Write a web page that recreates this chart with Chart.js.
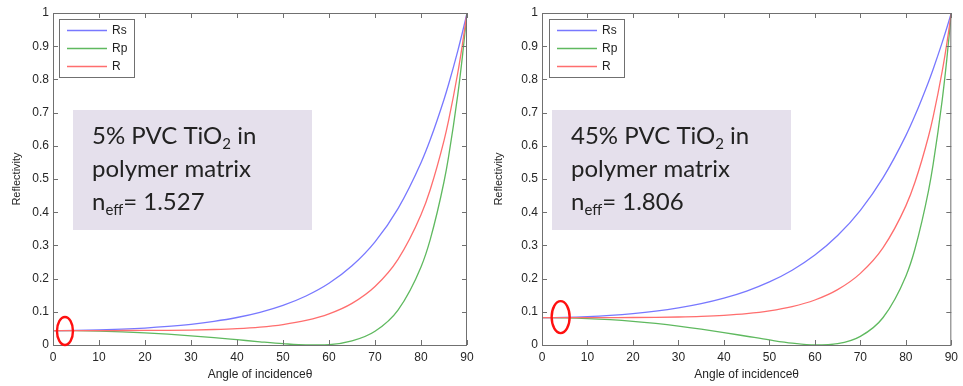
<!DOCTYPE html>
<html>
<head>
<meta charset="utf-8">
<script src="https://cdn.jsdelivr.net/npm/chart.js@4/dist/chart.umd.min.js"></script>
<style>
html,body{margin:0;padding:0;background:#fff;overflow:hidden;}
#wrap{position:relative;width:963px;height:386px;}
canvas{position:absolute;top:0;}
#c1{left:0;}
#c2{left:482px;}
</style>
</head>
<body>
<div id="wrap">
  <canvas id="c1" width="480" height="386" style="width:480px;height:386px"></canvas>
  <canvas id="c2" width="481" height="386" style="width:481px;height:386px"></canvas>
</div>
<script>
// angle of incidence (deg)
const angles=[0,5,10,15,20,25,30,35,40,45,50,55,60,65,70,75,80,82,85,86,88,89,90];
const xTicks=[0,10,20,30,40,50,60,70,80,90];
const yTicks=[0,0.1,0.2,0.3,0.4,0.5,0.6,0.7,0.8,0.9,1];

// 5% PVC, n_eff = 1.527
const rs1=[.0435,.0439,.0453,.0476,.0510,.0559,.0624,.0712,.0828,.0984,.1193,.1475,.1858,.2384,.3107,.4108,.5490,.6180,.7395,.7853,.8861,.9413,1];
const rp1=[.0435,.0431,.0418,.0396,.0365,.0325,.0277,.0222,.0160,.0097,.0040,.0003,.0014,.0121,.0412,.1051,.2351,.3175,.4917,.5675,.7540,.8684,1];
const r1 =[.0435,.0435,.0435,.0436,.0438,.0442,.0451,.0467,.0494,.0540,.0616,.0739,.0936,.1252,.1760,.2579,.3920,.4678,.6156,.6764,.8200,.9049,1];

// 45% PVC, n_eff = 1.806
const rs2=[.0825,.0832,.0853,.0890,.0944,.1018,.1117,.1245,.1411,.1624,.1899,.2252,.2708,.3296,.4057,.5041,.6307,.6910,.7932,.8307,.9114,.9547,1];
const rp2=[.0825,.0818,.0797,.0762,.0713,.0649,.0571,.0479,.0375,.0264,.0153,.0056,.0002,.0039,.0258,.0828,.2074,.2892,.4658,.5438,.7384,.8595,1];
const r2 =[.0825,.0825,.0825,.0826,.0828,.0834,.0844,.0862,.0893,.0944,.1026,.1154,.1355,.1668,.2158,.2934,.4191,.4901,.6295,.6872,.8249,.9071,1];

const seriesNames=['Rs','Rp','R'];
const seriesColors=['rgb(120,120,255)','rgb(95,185,95)','rgb(255,110,110)'];

const pts=arr=>arr.map((v,i)=>({x:angles[i],y:v}));

// axes box, inward ticks, legend, note box, red ring
const matlabBox={
  id:'matlabBox',
  afterDatasetsDraw(chart,args,o){
    const {ctx,chartArea:{left,right,top,bottom},scales:{x,y}}=chart;
    ctx.save();
    ctx.strokeStyle='#707070';ctx.lineWidth=1;
    ctx.strokeRect(left+.5,top+.5,right-left-1,bottom-top);
    ctx.beginPath();
    xTicks.forEach(v=>{
      const px=Math.round(x.getPixelForValue(v))+.5;
      ctx.moveTo(px,bottom);ctx.lineTo(px,bottom-5);
      ctx.moveTo(px,top);ctx.lineTo(px,top+5);
    });
    yTicks.forEach(v=>{
      const py=Math.round(y.getPixelForValue(v))+.5;
      ctx.moveTo(left,py);ctx.lineTo(left+5,py);
      ctx.moveTo(right,py);ctx.lineTo(right-5,py);
    });
    ctx.stroke();
    ctx.restore();
  },
  afterDraw(chart,args,o){
    const {ctx,chartArea:{left,top},scales:{x,y}}=chart;
    ctx.save();
    // legend
    const lx=left+o.legendDx, ly=top+6;
    ctx.fillStyle='#fff';ctx.fillRect(lx,ly,75,58);
    ctx.strokeStyle='#707070';ctx.lineWidth=1;
    ctx.strokeRect(lx+.5,ly+.5,75,58);
    ctx.font='12px "Liberation Sans", Arial, sans-serif';
    ctx.textBaseline='middle';
    seriesNames.forEach((n,i)=>{
      const yy=ly+11+i*18;
      ctx.strokeStyle=seriesColors[i];ctx.lineWidth=1.3;
      ctx.beginPath();ctx.moveTo(lx+8,yy+.5);ctx.lineTo(lx+48,yy+.5);ctx.stroke();
      ctx.fillStyle='#222';ctx.fillText(n,lx+53,yy+1);
    });
    // note box
    const bx=left+o.noteDx, by=top+97;
    ctx.fillStyle='#e5e0ec';ctx.fillRect(bx,by,239,120);
    ctx.fillStyle='#222';ctx.textBaseline='alphabetic';
    o.note.forEach((line,i)=>{
      let cx=bx+19;const base=by+34+i*33;
      line.forEach(([t,sub])=>{
        ctx.font=(sub?'15px':'24px')+' Lato, "Open Sans", sans-serif';
        ctx.fillText(t,cx,base+(sub?5:0));
        cx+=ctx.measureText(t).width;
      });
    });
    // ring
    ctx.strokeStyle='#ff1010';ctx.lineWidth=2.4;
    ctx.beginPath();
    ctx.ellipse(x.getPixelForValue(o.ring.x),y.getPixelForValue(o.ring.y),o.ring.rx,o.ring.ry,0,0,Math.PI*2);
    ctx.stroke();
    ctx.restore();
  }
};

function makeChart(id,rs,rp,r,yWidth,padRight,extra){
  const data=[rs,rp,r];
  return new Chart(document.getElementById(id),{
    type:'line',
    data:{
      datasets:data.map((d,i)=>({
        label:seriesNames[i],data:pts(d),
        borderColor:seriesColors[i],borderWidth:1.3,
        pointRadius:0,cubicInterpolationMode:'monotone',
        order:[1,2,0][i]
      }))
    },
    options:{
      responsive:false,devicePixelRatio:1,animation:false,
      layout:{autoPadding:false,padding:{top:13,right:padRight,left:0,bottom:0}},
      plugins:{legend:{display:false},tooltip:{enabled:false},matlabBox:extra},
      scales:{
        x:{type:'linear',min:0,max:90,
          grid:{display:false,drawTicks:false},border:{display:false},
          afterBuildTicks:s=>{s.ticks=xTicks.map(v=>({value:v}));},
          afterFit:s=>{s.height=41;},
          ticks:{padding:5,color:'#262626',maxRotation:0,font:{family:'"Liberation Sans", Arial, sans-serif',size:12}},
          title:{display:true,text:'Angle of incidence\u03b8',color:'#262626',padding:{top:0,bottom:4},font:{family:'"Liberation Sans", Arial, sans-serif',size:12}}
        },
        y:{type:'linear',min:0,max:1,
          grid:{display:false,drawTicks:false},border:{display:false},
          afterBuildTicks:s=>{s.ticks=yTicks.map(v=>({value:v}));},
          afterFit:s=>{s.width=yWidth;},
          ticks:{padding:4,color:'#262626',callback:v=>String(Math.round(v*10)/10),font:{family:'"Liberation Sans", Arial, sans-serif',size:12}},
          title:{display:true,text:'Reflectivity',color:'#262626',padding:{top:10,bottom:0},font:{family:'"Liberation Sans", Arial, sans-serif',size:11}}
        }
      }
    },
    plugins:[matlabBox]
  });
}

makeChart('c1',rs1,rp1,r1,53,13,{
  legendDx:6,noteDx:20,
  note:[[['5% PVC TiO',0],['2',1],[' in',0]],[['polymer matrix',0]],[['n',0],['eff',1],['= 1.527',0]]],
  ring:{x:2.6,y:0.042,rx:8,ry:14}
});
makeChart('c2',rs2,rp2,r2,60,5,{
  legendDx:7,noteDx:10,
  note:[[['45% PVC TiO',0],['2',1],[' in',0]],[['polymer matrix',0]],[['n',0],['eff',1],['= 1.806',0]]],
  ring:{x:4.1,y:0.084,rx:9,ry:16}
});
</script>
</body>
</html>
